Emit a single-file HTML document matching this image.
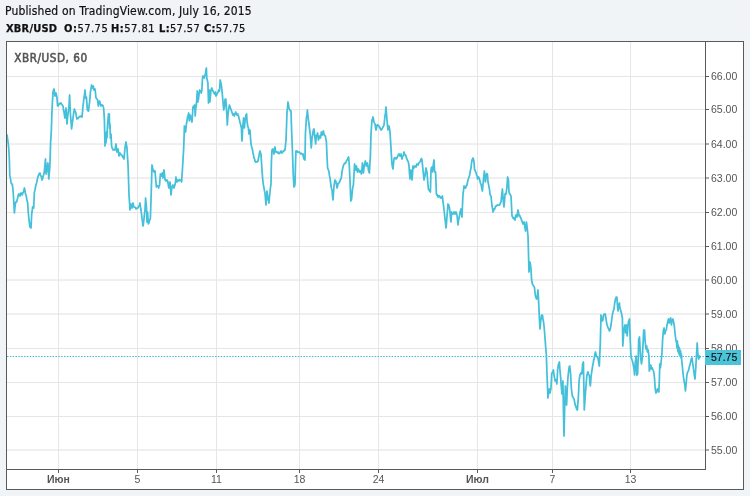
<!DOCTYPE html>
<html><head><meta charset="utf-8"><title>XBR/USD chart</title>
<style>
html,body{margin:0;padding:0;}
body{width:750px;height:496px;background:#f0f4f7;position:relative;overflow:hidden;font-family:"Liberation Sans",sans-serif;color:#1e1e1e;}
.hd{position:absolute;white-space:pre;line-height:15px;font-family:"DejaVu Sans Condensed","Liberation Sans",sans-serif;color:#111;-webkit-text-stroke:0.2px #111;}
.hd b{font-weight:bold;}
.g{position:absolute;white-space:pre;font-size:11px;line-height:13px;top:22px;font-family:"DejaVu Sans Condensed","Liberation Sans",sans-serif;color:#111;-webkit-text-stroke:0.25px #111;}
svg{position:absolute;left:0;top:0;}
</style></head><body>
<div class="hd" style="left:5px;top:4.4px;font-size:12px;letter-spacing:0.15px">Published on TradingView.com, July 16, 2015</div>
<div class="g" style="left:6px;letter-spacing:0.2px"><b>XBR/USD</b></div>
<div class="g" style="left:64px;letter-spacing:0.5px"><b>O:</b>57.75</div>
<div class="g" style="left:111px;letter-spacing:0.5px"><b>H:</b>57.81</div>
<div class="g" style="left:159px;letter-spacing:0.35px"><b>L:</b>57.57</div>
<div class="g" style="left:204px;letter-spacing:0.3px"><b>C:</b>57.75</div>
<svg width="750" height="496" viewBox="0 0 750 496">
<rect x="6" y="41" width="738" height="449" fill="#fff"/>
<line x1="7" y1="76.5" x2="705" y2="76.5" stroke="#e6e6e6" stroke-width="1"/>
<line x1="7" y1="109.5" x2="705" y2="109.5" stroke="#e6e6e6" stroke-width="1"/>
<line x1="7" y1="144.0" x2="705" y2="144.0" stroke="#e0e0e0" stroke-width="1"/>
<line x1="7" y1="178.0" x2="705" y2="178.0" stroke="#e0e0e0" stroke-width="1"/>
<line x1="7" y1="212.5" x2="705" y2="212.5" stroke="#e6e6e6" stroke-width="1"/>
<line x1="7" y1="246.5" x2="705" y2="246.5" stroke="#e6e6e6" stroke-width="1"/>
<line x1="7" y1="280.0" x2="705" y2="280.0" stroke="#e0e0e0" stroke-width="1"/>
<line x1="7" y1="314.0" x2="705" y2="314.0" stroke="#e0e0e0" stroke-width="1"/>
<line x1="7" y1="348.5" x2="705" y2="348.5" stroke="#e6e6e6" stroke-width="1"/>
<line x1="7" y1="382.5" x2="705" y2="382.5" stroke="#e6e6e6" stroke-width="1"/>
<line x1="7" y1="416.5" x2="705" y2="416.5" stroke="#e6e6e6" stroke-width="1"/>
<line x1="7" y1="450.0" x2="705" y2="450.0" stroke="#e0e0e0" stroke-width="1"/>
<line x1="58.5" y1="42" x2="58.5" y2="469" stroke="#e6e6e6" stroke-width="1"/>
<line x1="137.5" y1="42" x2="137.5" y2="469" stroke="#e6e6e6" stroke-width="1"/>
<line x1="216.5" y1="42" x2="216.5" y2="469" stroke="#e6e6e6" stroke-width="1"/>
<line x1="299.5" y1="42" x2="299.5" y2="469" stroke="#e6e6e6" stroke-width="1"/>
<line x1="378.5" y1="42" x2="378.5" y2="469" stroke="#e6e6e6" stroke-width="1"/>
<line x1="477.5" y1="42" x2="477.5" y2="469" stroke="#e6e6e6" stroke-width="1"/>
<line x1="552.5" y1="42" x2="552.5" y2="469" stroke="#e6e6e6" stroke-width="1"/>
<line x1="630.5" y1="42" x2="630.5" y2="469" stroke="#e6e6e6" stroke-width="1"/>
<text x="14.3" y="61.6" font-family="DejaVu Sans Condensed, Liberation Sans, sans-serif" font-size="11.6" letter-spacing="0.55" fill="#555" stroke="#555" stroke-width="0.55">XBR/USD, 60</text>
<line x1="7" y1="356.5" x2="705" y2="356.5" stroke="#36b9d6" stroke-width="1" stroke-dasharray="1.45 1.4"/>
<path d="M7 135 L7.7 139.6 L8.4 145 L8.9 150.8 L9.3 158 L9.8 176 L10.4 178 L11.1 183 L11.6 183.8 L12.2 184 L12.8 188.1 L13.3 194 L13.9 203.6 L14.4 213 L14.9 207.7 L15.5 203 L16.1 201.6 L16.6 202 L17.1 200 L17.7 198 L18.2 195.1 L18.8 194 L19.4 194.9 L20 196 L20.5 193.6 L21 193 L21.6 193.2 L22.2 195 L22.8 193.3 L23.3 192 L23.9 190.7 L24.4 188 L24.9 190.2 L25.5 194 L26.1 195.4 L26.6 198 L27.1 200.8 L27.7 203 L28.2 211.4 L28.8 218 L29.4 222.7 L29.9 227 L30.4 227.3 L31 228 L31.7 214 L32.1 211.5 L32.6 207 L33.2 206.6 L33.7 208 L34.4 192 L35 190.2 L35.5 187 L36 184.6 L36.6 183 L37.2 179.8 L37.7 178 L38.2 175.7 L38.8 175 L39.3 173.6 L39.9 173 L40.5 175.1 L41 176 L41.5 177.4 L42.1 180 L42.7 178.2 L43.2 176 L43.8 174.3 L44.3 172 L44.9 165.2 L45.5 159 L46.1 174 L46.5 171.6 L47 169 L47.5 165.1 L47.9 163 L48.3 170.1 L48.8 179 L49.2 173.4 L49.7 169 L50.2 156.4 L50.6 143 L51.4 129 L52 110 L52.5 100.9 L53 92 L53.5 90.1 L54 89 L54.5 92.7 L55 96 L55.5 94.4 L56 93 L56.5 95.1 L57 98 L57.6 106 L58.3 105.6 L59 104 L59.7 104.1 L60.3 102.8 L61 103 L61.7 104.1 L62.3 105.1 L63 106 L63.5 109.8 L64 112 L64.5 115.5 L65 118 L65.5 112.6 L66 108 L66.5 117 L67 124 L67.5 118.2 L68 114 L68.5 109.8 L69 106 L69.6 95 L70 105 L70.4 114 L71 120.8 L71.6 129 L72.3 123.5 L73 118 L73.7 112.6 L74.4 109 L75 110.8 L75.6 112 L76.3 116 L77 119 L77.7 118.5 L78.3 118.4 L79 117 L79.7 116.3 L80.3 116.7 L81 116 L81.5 116.7 L82 117 L82.5 111.7 L83 106 L83.5 101.9 L84 98 L84.5 94.7 L85 90 L85.6 98 L86 98.4 L86.4 97 L86.9 103.4 L87.4 110 L88 110.8 L88.6 111 L89.1 105.6 L89.6 102 L90 97.4 L90.4 92 L91 88.8 L91.6 85 L92 87.5 L92.4 88 L93.2 86 L94 90 L94.5 90.1 L95 89 L95.5 93.1 L96 98 L96.8 98.8 L97.6 100 L98 103.3 L98.4 106 L99 102.5 L99.6 101 L100.3 103.4 L101 106 L101.7 104.8 L102.4 105 L103 105.7 L103.6 108 L104 113.1 L104.4 120 L105 146 L105.5 138 L106 143 L106.5 132 L107 138 L107.5 125 L108 120 L108.5 114 L109 118 L109.3 114 L109.6 128 L110 124 L110.4 138 L111 134 L111.6 146 L112.3 148.5 L113 150 L113.7 149.3 L114.3 149.5 L115 150 L115.5 146.8 L116 144 L116.5 148.7 L117 152 L117.5 149.7 L118 149 L118.5 152.4 L119 156 L119.5 154.6 L120 153 L120.7 154.4 L121.3 155 L122 155 L122.7 157.1 L123.3 157.2 L124 159 L124.5 153.3 L125 148 L125.5 144.7 L126 142 L126.5 145.8 L127 148 L127.5 156.9 L128 164 L128.5 178.8 L129 195 L129.5 201.9 L130 210 L130.5 206.5 L131 204 L131.5 205.5 L132 208 L132.5 205.5 L133 203 L133.5 205.2 L134 207 L134.7 207.2 L135.3 207.3 L136 209 L136.7 208.5 L137.3 208.1 L138 208 L138.7 206.5 L139.3 205.6 L140 203 L140.5 206.9 L141 210 L141.5 214 L142 218 L142.5 222.2 L143 226 L143.5 222.9 L144 219 L144.5 213.6 L145 210 L145.6 198 L146 202.8 L146.4 206 L147 222 L147.6 212 L148 218.6 L148.4 224 L149 222.7 L149.6 220 L150 219.6 L150.4 218 L151 200 L151.6 180 L152 165 L152.5 167.3 L153 170 L153.5 170.8 L154 172 L154.5 170.7 L155 171 L155.6 178 L156 182.8 L156.4 187 L157 185.6 L157.6 186 L158.1 186.1 L158.6 188 L159.1 185.9 L159.6 185 L160 178.8 L160.4 174 L160.9 174.7 L161.4 176 L161.9 173.6 L162.4 173 L163 178 L163.5 173 L164 170 L164.5 174.3 L165 180 L165.5 179.7 L166 181 L166.5 180.2 L167 180 L167.5 180.6 L168 183 L168.5 186.2 L169 188 L169.5 185.2 L170 182 L170.5 187.8 L171 195 L171.5 190.5 L172 187 L172.5 185.7 L173 185 L173.5 186.2 L174 188 L174.5 185.7 L175 185 L175.5 181.7 L176 177 L176.5 180.5 L177 182 L177.5 180.9 L178 180 L178.5 180.5 L179 181 L179.5 179.7 L180 180 L180.8 180.2 L181.6 182 L182 175.7 L182.4 170 L183 160 L183.6 150 L184 140 L184.4 126 L184.9 129 L185.6 132 L186.3 125 L187.1 120 L187.8 116 L188.2 115.2 L188.7 113 L189.4 121 L190.2 115 L190.6 116.3 L191 119 L191.5 119.5 L192 122 L192.4 116 L193 107 L193.7 106 L194.4 108 L194.8 105 L195.2 116 L195.8 108 L196.4 104 L196.9 97 L197.3 91 L197.9 102 L198.6 98 L199.3 92 L199.7 90 L200.1 91.4 L200.5 91 L201.2 93 L201.9 90 L202.3 81 L202.8 76 L203.6 76 L204.3 78 L204.7 76 L205.4 74 L205.8 71 L206.4 68 L206.8 78 L207.5 81 L207.9 83 L208.5 103 L209.2 90 L209.9 102 L210.5 95 L211 90 L211.7 88 L212.4 90 L213.1 91 L213.5 92.1 L213.9 93 L214.6 94 L215.3 92 L216 96 L216.7 95 L217.4 93 L218.1 92 L218.8 90 L219.5 91 L220.2 80 L220.9 83 L221.6 87 L222.3 94 L223 102 L223.7 110 L224.4 107 L225.1 99 L225.8 99 L226.5 109 L226.9 116.3 L227.3 125 L228 115 L228.7 109 L229.4 105 L230.1 107 L230.8 109 L231.5 111 L232.2 113 L232.9 115 L233.6 114 L234.3 116 L235 114 L235.7 112 L236.4 114 L237.1 115 L237.8 114 L238.5 116 L239.2 119 L239.9 122 L240.7 125 L241.4 128 L242 141 L242.4 133.6 L242.8 126 L243.6 118 L244 122.1 L244.4 128 L245.2 119 L245.6 117.1 L246 115 L246.6 114 L247 121 L247.7 126 L248.4 128 L249 134 L249.5 133 L250 130 L250.5 137.7 L251 144 L251.5 146.4 L252 148 L252.5 150 L253 153 L253.5 155.2 L254 158 L254.5 158.8 L255 161 L255.5 162 L256 162 L256.7 161.7 L257.3 161.9 L258 161 L258.5 158.2 L259 156 L259.5 152.9 L260 151 L260.5 153.1 L261 154 L261.5 163 L262 170 L262.5 176.7 L263 182 L263.5 185.6 L264 188 L264.5 191.1 L265 193 L265.5 199.5 L266 205 L266.5 197.5 L267 191 L267.5 195 L268 199 L268.5 200.7 L269 203 L269.5 196.6 L270 192 L270.5 187.1 L271 184 L271.4 162 L272 150 L272.5 149.1 L273 149 L273.5 151 L274 154 L274.5 150.9 L275 147 L275.5 150.4 L276 152 L276.7 151.9 L277.3 152.9 L278 152 L278.7 153.3 L279.3 153.6 L280 153 L280.5 151.7 L281 151 L281.5 151.4 L282 153 L282.5 152 L283 152 L283.5 150.9 L284 151 L284.5 149.9 L285 150 L285.5 145.2 L286 140 L286.5 126.8 L287 112 L287.5 107.7 L288 102 L288.5 105 L289 108 L289.5 109.3 L290 110 L290.5 111.1 L291 111 L291.6 130 L292.4 150 L292.8 161.2 L293.2 174 L293.6 180.8 L294 187 L294.5 186.3 L295 184 L295.6 160 L296 151 L296.5 151.6 L297 151 L297.5 152 L298 152 L298.7 152.3 L299.3 152 L300 153 L300.7 153.9 L301.3 153.3 L302 154 L302.5 154.6 L303 154 L303.5 157.4 L304 159 L304.5 159.3 L305 160 L305.4 134 L305.9 125.8 L306.4 118 L306.9 114.9 L307.4 110 L307.9 115.4 L308.4 120 L308.9 123.3 L309.4 128 L309.9 131.3 L310.4 136 L310.8 141.3 L311.2 148 L311.6 143.8 L312 138 L312.5 135.6 L313 132 L313.5 129.8 L314 129 L314.5 134.2 L315 138 L315.6 144 L316.4 135 L317 135 L317.6 133 L318.4 140 L318.9 138.3 L319.4 136 L319.9 136.7 L320.4 138 L320.9 135.1 L321.4 132 L321.9 132.8 L322.4 135 L322.9 132 L323.4 131 L323.9 133.9 L324.4 135 L324.9 135.8 L325.4 136 L325.9 139.1 L326.4 142 L327 156 L327.6 168 L328.4 170 L329 172 L329.5 175.9 L330 178 L330.5 181.9 L331 186 L331.5 188.7 L332 190 L332.5 195.7 L333 200 L333.5 192.4 L334 186 L334.5 182.5 L335 180 L335.5 180.6 L336 182 L336.5 184.5 L337 188 L337.5 186.2 L338 184 L338.5 183 L339 183 L339.5 181.8 L340 181 L340.5 179.3 L341 179 L341.5 176.3 L342 172 L342.5 169.2 L343 167 L343.5 165.4 L344 164 L344.5 163.7 L345 163 L345.5 163.3 L346 162 L346.5 160.8 L347 160 L347.5 159.8 L348 158 L348.6 157 L349.2 164 L349.6 172 L350 180 L350.4 190.6 L350.8 201 L351.2 200 L351.6 199 L352.4 190 L352.9 186.5 L353.4 185 L354 174 L354.6 164 L355.1 166.9 L355.6 170 L356.4 166 L356.9 168.4 L357.4 172 L357.9 169.5 L358.4 169 L358.9 171.1 L359.4 172 L359.9 170.8 L360.4 171 L360.9 172.4 L361.4 174 L361.9 169 L362.4 163 L362.9 168.1 L363.4 173 L363.9 168.7 L364.4 165 L364.9 163 L365.4 161 L365.9 163.6 L366.4 166 L366.9 165.1 L367.4 163 L367.9 165.7 L368.4 170 L368.9 171.6 L369.4 173 L369.9 164 L370.4 156 L371 134 L371.5 126.6 L372 120 L372.5 119 L373 117 L373.5 119.5 L374 122 L374.5 123.1 L375 124 L375.5 127.5 L376 130 L376.5 128.3 L377 125 L377.5 124.9 L378 125 L378.5 125.7 L379 126 L379.5 127 L380 128 L380.5 129 L381 130 L381.5 129.9 L382 129 L382.5 127.9 L383 127 L383.5 126.1 L384 125 L384.5 120.5 L385 116 L385.5 112.4 L386 107 L386.5 113.9 L387 120 L387.5 125.8 L388 130 L388.5 128.9 L389 126 L389.5 128.5 L390 132 L390.5 140.1 L391 148 L391.5 156.9 L392 164 L392.5 167.2 L393 169 L393.5 163.3 L394 159 L394.5 157.7 L395 158 L395.5 158.4 L396 159 L396.5 157.6 L397 158 L397.5 156.5 L398 156 L398.5 154.1 L399 154 L399.5 155.3 L400 156 L400.5 155.6 L401 154 L401.5 157.3 L402 159 L402.5 156.8 L403 156 L403.5 154.4 L404 152 L404.5 153.8 L405 155 L405.5 154.8 L406 156 L406.5 158.3 L407 159 L407.5 160.9 L408 161 L408.5 162.9 L409 166 L409.5 173.4 L410 179 L410.5 174.3 L411 170 L411.5 175 L412 180 L412.5 174 L413 166 L413.5 167.7 L414 168 L414.5 166.3 L415 166 L415.5 166.4 L416 167 L416.5 165.5 L417 164 L417.5 164.2 L418 165 L418.5 163.4 L419 163 L419.5 162.1 L420 162 L420.5 160.9 L421 159 L421.5 158.5 L422 160 L422.5 165.1 L423 170 L423.5 174.9 L424 180 L424.5 177 L425 176 L425.5 171.7 L426 168 L426.5 170.2 L427 172 L427.6 180 L428.4 189 L429 190 L429.6 191 L430.4 192 L431 170 L431.5 167.6 L432 167 L432.6 172 L433.4 164 L434 160 L434.6 171 L435.1 172.5 L435.6 172 L436.4 194 L436.9 195.1 L437.4 195 L437.9 196.9 L438.4 197 L438.9 195.7 L439.4 196 L439.9 196.5 L440.4 198 L440.9 197.1 L441.4 198 L441.9 197.6 L442.4 196 L443 202 L443.5 205.5 L444 210 L444.5 213.8 L445 219 L445.5 223.3 L446 228 L446.5 222.8 L447 216 L447.5 210.6 L448 204 L448.5 204.5 L449 206 L449.5 208.3 L450 212 L450.5 217.8 L451 222 L451.6 212 L452.3 213.1 L453 214 L453.5 213.4 L454 212 L454.5 212.2 L455 214 L455.5 212.1 L456 212 L456.5 213.9 L457 215 L457.5 219.9 L458 225 L458.5 220.6 L459 218 L459.5 215.9 L460 212 L460.5 210.8 L461 209 L461.5 213.6 L462 217 L462.5 204.7 L463 194 L463.5 190.7 L464 186 L464.5 186.1 L465 188 L465.5 188.2 L466 187 L466.5 185.9 L467 185 L467.5 182.2 L468 180 L468.5 178.6 L469 177 L469.5 175.9 L470 173 L470.5 170 L471 168 L471.5 163.3 L472 160 L472.5 159.1 L473 158 L473.5 159.5 L474 162 L474.6 170 L475.1 170.2 L475.6 172 L476.1 172.8 L476.6 175 L477.1 176.1 L477.6 179 L478.4 177 L478.9 177.4 L479.4 179 L479.9 180.6 L480.4 183 L480.9 184.1 L481.4 186 L481.9 189 L482.4 191 L482.9 185.1 L483.4 180 L483.9 175.5 L484.4 171 L484.9 175.9 L485.4 182 L485.9 178.2 L486.4 175 L486.9 173.5 L487.4 174 L488 182 L488.5 184 L489 187 L489.5 189.5 L490 194 L490.5 195.5 L491 196 L491.5 201.1 L492 206 L492.5 208.4 L493 212 L493.5 210.4 L494 209 L494.5 209.4 L495 208 L495.5 206.2 L496 206 L496.5 206.1 L497 205 L497.7 204.9 L498.3 205 L499 205 L499.5 205.2 L500 204 L500.5 202.8 L501 202 L501.6 196 L502.4 189 L502.8 194.5 L503.2 200 L503.6 203.9 L504 207 L504.5 201.5 L505 194 L505.5 193.7 L506 194 L506.5 190.7 L507 186 L507.6 177 L508.4 180 L509 192 L509.5 193.4 L510 194 L510.5 195.3 L511 196 L511.5 205.8 L512 216 L512.5 216.7 L513 218 L513.5 217.6 L514 219 L514.5 218.8 L515 220 L515.5 216.6 L516 215 L516.5 216.5 L517 217 L517.5 213 L518 210 L518.5 212.3 L519 216 L519.5 215.2 L520 216 L520.5 217.7 L521 218 L521.5 220.2 L522 221 L522.5 222.8 L523 224 L523.5 222.6 L524 222 L524.5 224.5 L525 228 L525.6 231 L526.4 222 L526.8 224.6 L527.2 228 L528 236 L528.4 250 L529 272 L529.5 266.9 L530 262 L530.5 264.8 L531 269 L531.6 280 L532.4 284 L533 284.9 L533.6 286 L534.4 287 L534.8 290.5 L535.3 295 L536 297.9 L536.7 299 L537.4 295.4 L538 290 L538.7 303 L539.3 317 L540 329 L540.7 321 L541.2 318.1 L541.6 315 L542.4 315 L543 319 L543.7 323 L544.4 330 L545 338 L545.6 346 L546.3 354 L546.7 366 L547.3 382 L548 398 L548.7 390 L549.3 389 L550 393 L550.5 390.5 L550.9 389 L551.3 382.4 L551.7 374 L552.2 372.6 L552.6 372 L553.4 370 L553.8 373.2 L554.3 377 L554.7 378 L555.1 381 L555.5 380.3 L556 380 L556.5 381.9 L556.9 384 L557.3 376.5 L557.7 369 L558.2 365.9 L558.6 364 L559.4 362 L559.8 368 L560.3 374 L560.7 378 L561.1 384 L561.5 388.5 L562 394 L562.5 386.7 L562.9 381 L563.4 408 L564 436 L564.7 406 L565.4 386 L565.9 401 L566.6 405 L567.1 393 L567.5 384.8 L568 377 L568.5 372.1 L568.9 369 L569.3 366.5 L569.7 366 L570.2 369.6 L570.6 374 L571.4 389 L571.8 392 L572.3 396 L572.7 396.7 L573.1 397 L573.5 398.1 L574 399 L574.8 403 L575.2 405 L575.7 406 L576.2 407.8 L576.6 409 L577.4 410 L577.8 404.4 L578.3 398 L578.7 390.3 L579.1 381 L579.5 377.8 L580 375 L580.8 373 L581.2 373.2 L581.7 374 L582.2 370 L582.6 364 L583.4 362 L583.9 389 L584.3 410 L584.7 403.3 L585.1 398 L585.5 392.4 L586 386 L586.8 376 L587.2 374.3 L587.7 372 L588.2 372.1 L588.6 374 L589.4 376 L589.8 381.7 L590.3 386 L590.7 381.8 L591.1 376 L591.5 373.3 L592 370 L592.8 365 L593.2 363 L593.7 360 L594.2 358.6 L594.6 356 L595.4 352 L595.8 353.3 L596.3 356 L596.7 356.5 L597.1 357 L597.5 357.5 L598 358 L598.8 363 L599.3 366 L600 350 L600.4 340 L601 315 L601.6 318 L602.3 321 L602.9 320 L603.6 315 L604.4 314 L604.8 314.7 L605.2 314 L605.9 318 L606.6 323 L607.4 326 L608.1 328 L608.8 329 L609.2 330.6 L609.6 331 L610.3 329 L611 325 L611.8 319 L612.5 314 L613.3 311 L614 309 L614.7 303 L615.5 299 L616.2 297 L616.9 297 L617.4 305 L618 311 L618.7 306 L619.4 303 L619.8 306.7 L620.2 309 L620.9 311 L621.6 314 L622.4 318 L622.8 346 L623.2 340.2 L623.6 334 L624.3 328 L625 325 L625.8 333 L626.5 325 L627.2 336 L628 325 L628.7 321 L629.5 319 L630.2 339 L630.9 355 L631.3 357.8 L631.7 359 L632.4 361 L633.1 364 L633.9 368 L634.6 375 L635.3 362 L635.7 359.4 L636.1 356 L636.8 375 L637.2 374.9 L637.6 374 L638.3 356 L638.7 339 L639.5 337 L640.1 349 L640.8 359 L641.5 364 L642.3 358 L643 345 L643.7 330 L644.5 330 L645.2 342 L646 349 L646.7 346 L647.4 352 L647.8 350.5 L648.2 350 L648.9 356 L649.3 371 L649.7 369.1 L650.1 369 L650.8 365 L651.5 369 L652.3 368 L653 370 L653.8 372 L654.5 378 L655.2 389 L656 393 L656.7 392 L657.4 389 L657.8 388.8 L658.2 390 L658.9 392 L659.4 378 L659.8 364 L660.4 368 L661.1 362 L661.9 354 L662.6 340 L663.3 331 L663.7 329.2 L664.1 328 L664.8 334 L665.5 331 L666.3 330 L667 325 L667.7 322 L668.5 319 L669.2 323 L670 319 L670.7 318 L671.4 325 L671.8 322.2 L672.2 321 L672.9 319 L673.6 322 L674.4 327 L675.1 334 L675.8 339 L676.2 341.7 L676.6 343 L677 348 L677.4 341 L677.8 351 L678.2 345 L678.6 353 L679 347 L679.4 355 L679.8 349 L680.2 356 L680.6 351 L681 358 L681.4 354 L681.7 360 L682.5 368 L683.2 375 L683.9 380 L684.3 382.1 L684.7 384 L685.4 391 L685.8 387.3 L686.2 383 L686.9 375 L687.6 372 L688.4 371 L689.1 368 L689.8 365 L690.2 363.8 L690.6 362 L691.3 359 L692 358 L692.8 364 L693.5 369 L694.3 375 L695 379 L695.7 369 L696.5 355 L697.2 343 L697.9 355 L698.3 357.4 L698.7 359 L699.4 356 L700.1 357" fill="none" stroke="#45c0da" stroke-width="1.75" stroke-linejoin="round" stroke-linecap="round"/>
<line x1="705.5" y1="41" x2="705.5" y2="470" stroke="#5a5a5a"/>
<line x1="6" y1="469.5" x2="706" y2="469.5" stroke="#5a5a5a"/>
<rect x="6.5" y="41.5" width="737" height="448" fill="none" stroke="#5a5a5a"/>
<line x1="706" y1="76.5" x2="709" y2="76.5" stroke="#5a5a5a"/>
<text x="711" y="80.4" font-family="Liberation Sans, sans-serif" font-size="10.5" fill="#555">66.00</text>
<line x1="706" y1="109.5" x2="709" y2="109.5" stroke="#5a5a5a"/>
<text x="711" y="113.4" font-family="Liberation Sans, sans-serif" font-size="10.5" fill="#555">65.00</text>
<line x1="706" y1="144.0" x2="709" y2="144.0" stroke="#5a5a5a"/>
<text x="711" y="147.9" font-family="Liberation Sans, sans-serif" font-size="10.5" fill="#555">64.00</text>
<line x1="706" y1="178.0" x2="709" y2="178.0" stroke="#5a5a5a"/>
<text x="711" y="181.9" font-family="Liberation Sans, sans-serif" font-size="10.5" fill="#555">63.00</text>
<line x1="706" y1="212.5" x2="709" y2="212.5" stroke="#5a5a5a"/>
<text x="711" y="216.4" font-family="Liberation Sans, sans-serif" font-size="10.5" fill="#555">62.00</text>
<line x1="706" y1="246.5" x2="709" y2="246.5" stroke="#5a5a5a"/>
<text x="711" y="250.4" font-family="Liberation Sans, sans-serif" font-size="10.5" fill="#555">61.00</text>
<line x1="706" y1="280.0" x2="709" y2="280.0" stroke="#5a5a5a"/>
<text x="711" y="283.9" font-family="Liberation Sans, sans-serif" font-size="10.5" fill="#555">60.00</text>
<line x1="706" y1="314.0" x2="709" y2="314.0" stroke="#5a5a5a"/>
<text x="711" y="317.9" font-family="Liberation Sans, sans-serif" font-size="10.5" fill="#555">59.00</text>
<line x1="706" y1="348.5" x2="709" y2="348.5" stroke="#5a5a5a"/>
<text x="711" y="352.4" font-family="Liberation Sans, sans-serif" font-size="10.5" fill="#555">58.00</text>
<line x1="706" y1="382.5" x2="709" y2="382.5" stroke="#5a5a5a"/>
<text x="711" y="386.4" font-family="Liberation Sans, sans-serif" font-size="10.5" fill="#555">57.00</text>
<line x1="706" y1="416.5" x2="709" y2="416.5" stroke="#5a5a5a"/>
<text x="711" y="420.4" font-family="Liberation Sans, sans-serif" font-size="10.5" fill="#555">56.00</text>
<line x1="706" y1="450.0" x2="709" y2="450.0" stroke="#5a5a5a"/>
<text x="711" y="453.9" font-family="Liberation Sans, sans-serif" font-size="10.5" fill="#555">55.00</text>
<line x1="58.5" y1="470" x2="58.5" y2="473" stroke="#5a5a5a"/>
<text x="58.5" y="483" text-anchor="middle" font-family="Liberation Sans, sans-serif" font-size="10.5" font-weight="bold" fill="#555">Июн</text>
<line x1="137.5" y1="470" x2="137.5" y2="473" stroke="#5a5a5a"/>
<text x="137.5" y="483" text-anchor="middle" font-family="Liberation Sans, sans-serif" font-size="10.5" fill="#555">5</text>
<line x1="216.5" y1="470" x2="216.5" y2="473" stroke="#5a5a5a"/>
<text x="216.5" y="483" text-anchor="middle" font-family="Liberation Sans, sans-serif" font-size="10.5" fill="#555">11</text>
<line x1="299.5" y1="470" x2="299.5" y2="473" stroke="#5a5a5a"/>
<text x="299.5" y="483" text-anchor="middle" font-family="Liberation Sans, sans-serif" font-size="10.5" fill="#555">18</text>
<line x1="378.5" y1="470" x2="378.5" y2="473" stroke="#5a5a5a"/>
<text x="378.5" y="483" text-anchor="middle" font-family="Liberation Sans, sans-serif" font-size="10.5" fill="#555">24</text>
<line x1="477.5" y1="470" x2="477.5" y2="473" stroke="#5a5a5a"/>
<text x="477.5" y="483" text-anchor="middle" font-family="Liberation Sans, sans-serif" font-size="10.5" font-weight="bold" fill="#555">Июл</text>
<line x1="552.5" y1="470" x2="552.5" y2="473" stroke="#5a5a5a"/>
<text x="552.5" y="483" text-anchor="middle" font-family="Liberation Sans, sans-serif" font-size="10.5" fill="#555">7</text>
<line x1="630.5" y1="470" x2="630.5" y2="473" stroke="#5a5a5a"/>
<text x="630.5" y="483" text-anchor="middle" font-family="Liberation Sans, sans-serif" font-size="10.5" fill="#555">13</text>
<rect x="705" y="350" width="36" height="15" fill="#4bc4da"/>
<line x1="706" y1="356.5" x2="709" y2="356.5" stroke="#222"/>
<text x="711" y="361" font-family="Liberation Sans, sans-serif" font-size="10.5" fill="#111" stroke="#111" stroke-width="0.15">57.75</text>
</svg>
</body></html>
